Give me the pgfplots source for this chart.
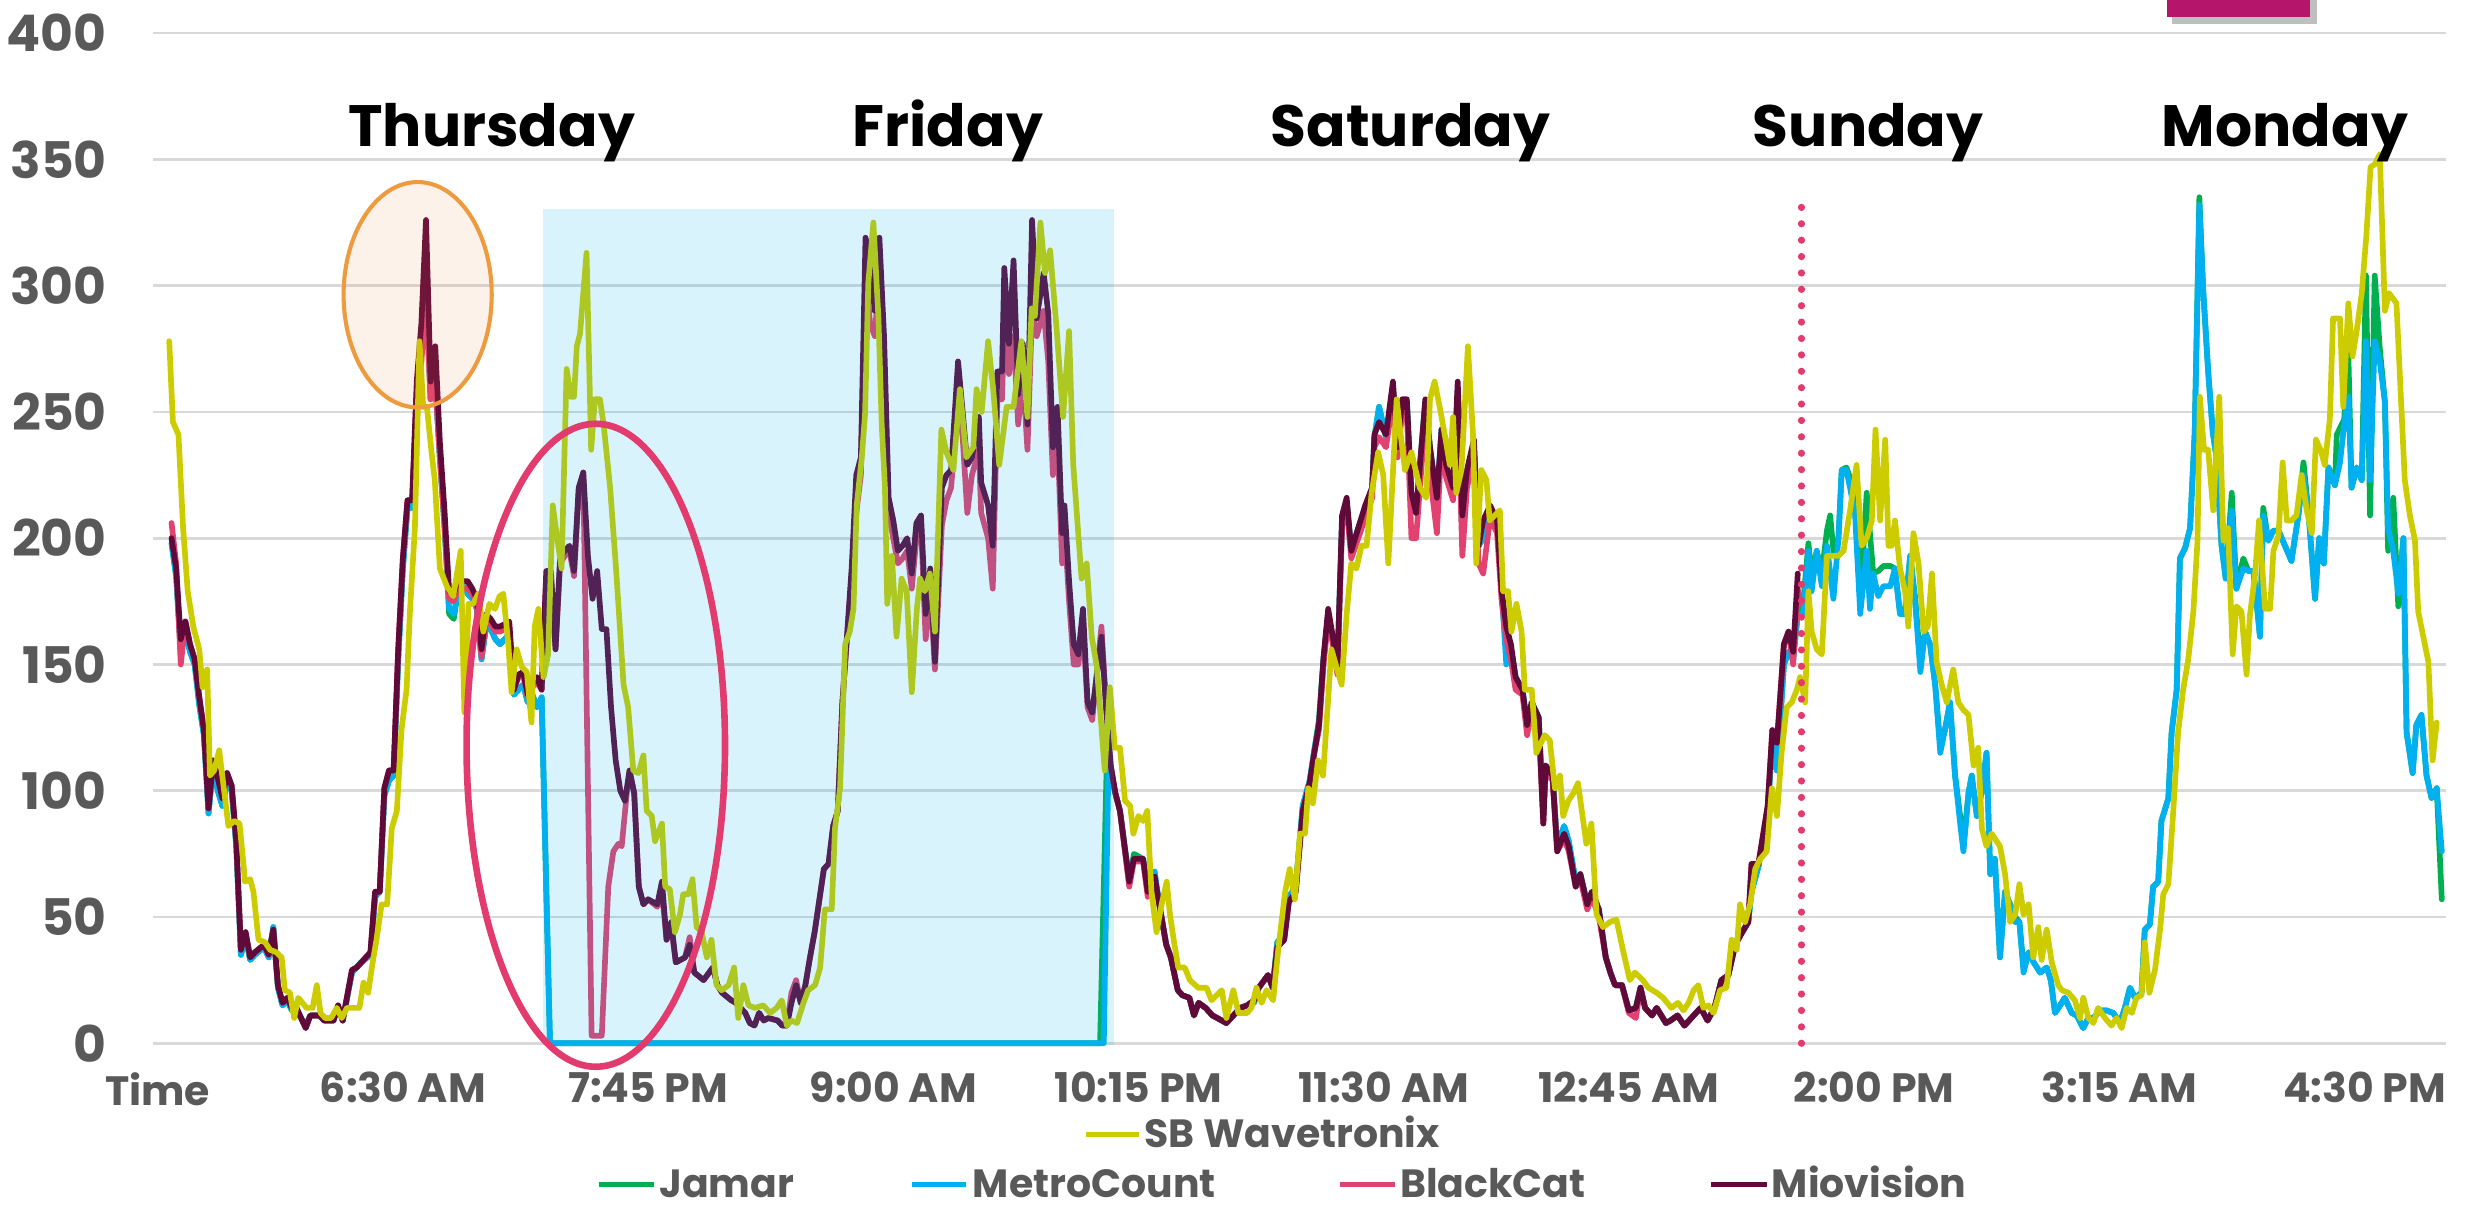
\documentclass[border=0pt]{standalone}
\usepackage{fontspec}
\setmainfont{Poppins}
\usepackage{pgfplots}
\usepackage{pgfplotstable}
\pgfplotsset{compat=1.18}
\definecolor{wavc}{HTML}{CCCC00}
\definecolor{jamc}{HTML}{00B050}
\definecolor{metc}{HTML}{00B0F0}
\definecolor{blkc}{HTML}{E2426F}
\definecolor{mioc}{HTML}{600A3A}
\definecolor{gridc}{HTML}{D9D9D9}
\definecolor{txtc}{HTML}{595959}
\definecolor{orc}{HTML}{EE9A3F}
\definecolor{orf}{HTML}{ED7D31}
\definecolor{pinkc}{HTML}{E23C6E}
\definecolor{magc}{HTML}{B5156B}

\pgfplotstableread{
x mio blk met jam
4 200 206 198 198
5 188 190 185 185
6 160 150 155 155
7 167 167 163 163
8 158 158 155 155
9 152 152 150 150
10 137 137 134 134
11 124 124 122 122
12 93 93 91 91
13 112 112 110 110
14 105 105 100 100
15 97 97 94 94
16 107 107 104 104
17 102 102 100 100
18 80 80 78 78
19 37 37 35 35
20 44 44 42 42
21 34 34 33 33
22 36 36 35 35
24 39 39 38 38
25 35 35 34 34
26 45 45 46 46
27 23 23 22 22
28 16 16 15 15
29 18 18 17 17
30 14 14 13 13
31 14 14 13 13
33 6 6 7 7
34 11 11 11 11
36 11 11 11 11
37 9 9 9 9
39 9 9 9 9
40 15 15 14 14
41 9 9 9 9
43 29 29 28 28
44 30 30 30 30
45 32 32 32 32
47 36 36 35 35
48 60 60 58 58
49 60 60 60 60
50 101 101 98 98
51 108 108 104 104
52 108 108 106 106
53 156 156 152 152
54 192 192 188 188
55 215 215 212 212
56 215 215 212 212
57 262 258 255 255
58 285 270 278 278
59 326 295 300 300
60 262 255 255 255
61 276 262 262 262
62 238 232 232 232
63 211 205 205 205
64 179 176 172 170
65 178 175 170 168
66 183 180 180 180
67 183 180 182 182
68 183 180 178 178
69 180 178 176 176
70 176 173 172 172
71 156 153 152 152
72 170 167 165 165
73 168 166 164 164
74 165 163 160 160
75 165 163 158 158
77 167 165 162 162
78 140 140 138 138
79 146 145 140 140
80 147 146 142 142
81 138 137 135 135
82 142 141 138 138
83 145 143 133 133
84 140 140 137 137
85 187 185 nan nan
85.8 nan nan 0 0
86 187 185 nan nan
87 156 156 nan nan
88 193 190 nan nan
89 195 193 nan nan
90 197 195 nan nan
91 187 185 nan nan
92 220 218 nan nan
93 226 226 nan nan
94 193 nan nan nan
94.8 nan 3 nan nan
95 176 nan nan nan
96 187 nan nan nan
97 164 3 nan nan
98 164 nan nan nan
98.4 nan 62 nan nan
99 133 nan nan nan
99.5 nan 76 nan nan
100 112 nan nan nan
100.6 nan 79 nan nan
101 100 nan nan nan
101.3 nan 78 nan nan
102 96 nan nan nan
102.4 nan 99 nan nan
103 108 108 nan nan
104 99 99 nan nan
105 62 62 nan nan
106 55 55 nan nan
107 57 57 nan nan
109 55 54 nan nan
110 64 60 nan nan
111 41 41 nan nan
112 48 46 nan nan
113 32 32 nan nan
115 34 34 nan nan
116 39 42 nan nan
117 28 28 nan nan
119 25 25 nan nan
121 30 30 nan nan
122 23 23 nan nan
123 20 20 nan nan
125 17 17 nan nan
126 16 16 nan nan
128 12 12 nan nan
129 8 8 nan nan
130 7 7 nan nan
131 12 12 nan nan
132 9 9 nan nan
133 10 10 nan nan
135 9 9 nan nan
136 7 7 nan nan
137 7 7 nan nan
138 16 20 nan nan
139 23 25 nan nan
140 16 16 nan nan
141 23 23 nan nan
142 34 34 nan nan
143 44 44 nan nan
145 69 69 nan nan
146 71 71 nan nan
147 86 86 nan nan
148 92 92 nan nan
149 135 135 nan nan
151 188 185 nan nan
152 225 210 nan nan
153 232 225 nan nan
154 319 305 nan nan
155 310 285 nan nan
156 290 280 nan nan
157 319 305 nan nan
158 280 265 nan nan
159 216 210 nan nan
160 207 200 nan nan
161 195 190 nan nan
162 197 192 nan nan
163 200 195 nan nan
164 186 180 nan nan
165 206 200 nan nan
166 209 205 nan nan
167 170 160 nan nan
168 188 180 nan nan
169 151 148 nan nan
170.5 220 205 nan nan
171.5 225 215 nan nan
172.5 227 220 nan nan
174 270 255 nan nan
175 250 240 nan nan
176 229 210 nan nan
177 232 225 nan nan
178.5 248 235 nan nan
179 222 210 nan nan
180.5 213 200 nan nan
181.5 197 180 nan nan
182.5 266 255 nan nan
183.5 266 255 nan nan
184 307 285 nan nan
185 277 265 nan nan
186 310 280 nan nan
187 257 245 nan nan
188 277 265 nan nan
189 245 235 nan nan
190 326 290 nan nan
191 287 280 nan nan
192.5 305 290 nan nan
193.5 289 270 nan nan
194.5 236 225 nan nan
195.5 252 240 nan nan
196.5 202 190 nan nan
197 213 205 nan nan
198 183 175 nan nan
199 158 150 nan nan
200 154 150 nan nan
201 172 165 nan nan
202 135 133 nan nan
203 131 128 nan nan
204.7 nan nan nan 0
205 161 165 nan nan
205.5 nan nan 0 nan
206 133 133 nan nan
206.1 nan nan nan 108
206.5 nan nan 110 nan
207 110 110 108 108
208 99 99 99 99
209 92 92 92 92
211 64 62 64 64
212 73 72 73 75
214 73 72 73 73
215 60 58 60 60
216.5 66 64 68 66
217.5 55 55 55 55
219 39 39 39 39
220 34 34 34 34
221.5 21 21 21 21
222.5 19 19 19 19
224 18 18 18 18
225 11 11 11 11
226 16 16 16 16
227.5 14 14 14 14
229 11 11 11 11
232 8 8 8 8
233.5 11 11 11 11
235 14 14 14 14
236.5 15 15 15 15
238 17 17 16 17
239 22 22 22 22
241 27 27 27 27
242 22 22 22 22
243 38 38 40 40
244.5 41 41 43 43
245.5 56 56 58 58
247 60 60 62 62
248.5 92 92 94 94
250 103 103 104 104
251 115 115 116 116
252 126 124 126 128
253 153 150 152 152
254 172 168 170 170
255 161 158 160 160
256 149 146 150 150
257 209 205 206 206
258 216 212 214 214
259 195 192 195 195
260.5 204 200 204 204
262 213 208 212 212
263.5 220 216 220 220
264 241 236 240 240
265 246 240 252 252
266.5 241 236 240 240
268 262 255 258 258
269 236 232 236 236
270 255 250 254 254
271 255 250 254 254
272 218 200 215 215
273 210 200 210 210
275 255 248 254 254
276 236 225 236 236
277.5 216 202 214 214
278.5 243 238 243 243
279.5 229 224 229 229
281 220 215 218 218
282 262 255 258 258
283 209 193 200 200
284 227 220 225 225
285.5 239 232 237 237
286.5 197 190 197 197
287.5 207 186 200 200
289 213 208 212 212
290.5 207 202 207 207
291.5 179 175 179 179
292.5 165 160 150 155
293.5 158 152 156 156
294.5 145 140 145 145
296 140 138 140 140
297 126 122 126 126
298 135 132 135 135
299.5 129 126 129 129
300.5 87 87 90 90
301 110 108 110 110
302.5 106 104 106 106
303.5 76 76 78 78
305 83 81 86 86
306 78 76 80 80
307.5 62 62 64 64
308.5 67 65 67 67
310 55 53 55 55
311 60 58 60 60
312.5 53 50 53 53
314 34 34 34 34
315 28 28 28 28
316 23 23 23 23
317.5 23 23 23 23
319 13 12 13 13
320.5 14 10 14 14
321.5 22 22 22 22
322.5 14 14 14 14
324 11 11 11 11
325 14 14 14 14
327 8 8 8 8
328 9 9 9 9
329.5 11 11 11 11
331 7 7 7 7
332 9 9 9 9
334.5 14 14 14 14
336 9 9 9 9
337.5 14 14 14 14
339 25 25 25 25
340.5 27 27 27 27
342 39 39 40 40
343.5 44 44 44 44
344.8 48 48 48 48
345.5 71 71 60 60
347 71 71 70 70
349 94 94 92 92
350 124 124 120 120
351 119 119 108 108
352.5 158 158 150 150
353.5 163 163 155 155
354.5 155 150 152 152
355.5 186 180 170 170
356 nan 174 nan nan
356.7 nan nan 170 175
357.8 nan nan 195 198
358.5 nan nan 179 185
359.6 nan nan 195 195
360.7 nan nan 181 186
361.8 nan nan 197 203
362.5 nan nan nan 209
363.2 nan nan 176 195
364.3 nan nan 200 200
365 nan nan 227 227
366 nan nan 227 228
366.8 nan nan 220 224
367.9 nan nan 209 213
369 nan nan 170 175
370.4 nan nan 195 218
371.1 nan nan 172 nan
371.8 nan nan 186 186
372.9 nan nan 177 187
374 nan nan 181 189
375.5 nan nan 181 189
376.5 nan nan 188 188
377.6 nan nan 170 170
378.7 nan nan 170 172
379.8 nan nan 193 193
380.9 nan nan 174 176
382 nan nan 147 150
383 nan nan 163 163
384.1 nan nan 158 158
385.2 nan nan 142 142
386.3 nan nan 115 118
387.3 nan nan 124 124
388.4 nan nan 135 135
389.5 nan nan 106 106
390.6 nan nan 87 90
391.3 nan nan 76 78
392.4 nan nan 99 99
393.1 nan nan 106 106
394.2 nan nan 90 90
395.3 nan nan 100 100
396.3 nan nan 115 115
397.1 nan nan 67 67
398.1 nan nan 73 73
399.2 nan nan 34 34
400.3 nan nan 60 60
401.4 nan nan 55 55
402.5 nan nan 48 50
403.4 nan nan 48 48
404.3 nan nan 28 30
405.4 nan nan 36 36
406.5 nan nan 32 32
407.9 nan nan 28 28
409.3 nan nan 30 30
410.2 nan nan 25 25
411.1 nan nan 12 12
412.2 nan nan 15 15
413.2 nan nan 18 18
414.7 nan nan 12 12
415.8 nan nan 11 11
417.2 nan nan 6 6
418.3 nan nan 10 10
419.4 nan nan 10 10
420.8 nan nan 13 13
422.2 nan nan 13 13
423.7 nan nan 12 12
425.1 nan nan 8 8
426.2 nan nan 14 14
427.3 nan nan 22 22
428.4 nan nan 18 18
429.8 nan nan 20 20
430.5 nan nan 45 45
431.6 nan nan 47 47
432.3 nan nan 62 62
433.4 nan nan 64 64
434.1 nan nan 88 88
435.6 nan nan 97 97
436.3 nan nan 123 123
437.4 nan nan 140 140
438.1 nan nan 192 192
439.2 nan nan 196 196
440.3 nan nan 204 204
441.3 nan nan 242 242
442.3 nan nan 332 335
443.1 nan nan 299 299
444.2 nan nan 266 266
445.2 nan nan 242 242
446 nan nan 232 232
447.1 nan nan 197 197
448 nan nan 184 184
449.3 nan nan 211 218
450.3 nan nan 180 180
451.8 nan nan 188 192
452.9 nan nan 187 187
454 nan nan 187 187
455.4 nan nan 161 161
456.1 nan nan 209 212
457.2 nan nan 199 199
458.3 nan nan 203 203
459.4 nan nan 203 203
460.8 nan nan 197 197
462.2 nan nan 191 191
463.7 nan nan 209 209
464.8 nan nan 225 230
465.9 nan nan 210 210
467.3 nan nan 176 176
468.2 nan nan 200 200
469.2 nan nan 190 190
470.2 nan nan 228 228
471.6 nan nan 221 221
472 nan nan nan 241
472.7 nan nan 230 nan
473.6 nan nan 245 247
474.5 nan nan 256 273
475.2 nan nan 220 220
476.3 nan nan 228 228
477.4 nan nan 223 223
478.3 nan nan 278 304
479.2 nan nan 223 209
480.2 nan nan 278 304
481.3 nan nan 270 275
482.4 nan nan 254 254
483.1 nan nan 204 195
484.2 nan nan 195 216
485.3 nan nan 178 173
486.4 nan nan 200 200
487.1 nan nan 123 123
488.4 nan nan 107 107
489.2 nan nan 126 126
490.3 nan nan 130 130
491.4 nan nan 106 106
492.5 nan nan 97 97
493.6 nan nan 101 101
494.7 nan nan 76 57
}\cnt

\pgfplotstableread{
x y
3.5 278
4.3 246
5.5 241
6.5 204
7.5 179
8.7 165
10 156
10.7 141
11.7 148
12.3 106
13.2 108
14.3 116
15.3 101
16.3 86
17.5 88
18.7 87
19.9 64
21 65
21.7 60
22.8 41
24.2 40
25.3 37
26.7 36
27.8 34
28.5 21
29.6 20
30.5 10
31.4 18
33.2 14
34.5 14
35.4 23
36.2 12
37.2 10
38.5 10
39.7 14
40.8 10
41.9 14
43.3 14
44.6 14
45.5 24
46.5 20
47.3 30
48.3 41
49.4 55
50.6 55
51.6 85
52.7 92
53.7 124
54.8 140
55.5 170
56.6 204
57.6 278
58.4 252
59.2 252
60.2 234
60.9 223
62 188
63.5 181
64.9 177
66.5 195
67.3 131
68.2 174
69.2 174
70.3 178
71.4 163
72.7 174
73.9 172
74.9 177
75.7 178
76.8 158
77.5 139
78.6 156
79.7 149
80.8 147
81.8 127
82.5 165
83.3 172
84.4 145
85.4 154
86.4 213
87.2 202
88.3 188
89.4 267
90.3 256
91 256
91.6 276
92.3 281
93.7 313
94.7 235
95.5 255
96.6 255
97.4 245
98.8 220
100 190
100.9 165
101.7 142
102.7 133
103.8 108
104.9 107
106 114
106.7 92
107.8 90
108.5 80
110 87
110.7 62
111.7 61
112.8 44
113.9 51
114.6 59
115.7 59
116.6 65
117.5 46
118.6 44
119.7 34
120.7 41
121.8 23
122.9 21
124.4 23
125.6 30
126.5 10
127.6 23
128.7 15
130.1 14
131.9 15
133.4 12
134.8 14
135.9 17
137 7
138 9
139.2 8
140.6 16
141.6 21
143.1 23
144.2 30
145.2 53
146.7 53
147.4 85
148.5 101
149.6 158
150.6 163
151.4 172
152.1 213
153.2 232
153.9 249
154.6 301
155.7 325
156.8 287
157.5 245
158.2 220
158.7 174
159.7 193
160.7 161
161.8 184
162.9 179
164 139
165.1 172
165.8 184
166.8 179
167.9 186
169 163
170.4 243
171.5 234
173 227
174.4 259
175.8 232
177.3 236
178 259
179.1 250
180.5 278
181.6 259
182.9 229
184.5 252
186 252
187.7 278
189 248
189.9 291
190.6 288
191.8 325
192.8 305
193.9 314
195.3 283
196.7 248
198 282
198.9 229
200.7 184
201.8 190
202.9 161
204 149
205.7 108
206.8 141
207.9 117
209 117
210.1 96
211.2 94
211.9 83
213 90
214 88
214.9 92
215.8 60
216.9 44
218 55
219.1 64
219.8 51
220.7 40
221.6 30
223 30
224.1 25
225.9 22
227.7 22
228.8 17
231 21
232 10
233.5 21
234.6 12
236.5 12
237.4 14
238.5 22
239.6 16
240.7 21
242.1 17
243.2 37
244.7 60
245.7 69
246.8 57
247.9 83
249 83
249.7 101
250.7 95
251.8 112
252.9 106
254.7 156
255.8 149
256.9 142
258 170
259 190
260.1 188
261.2 197
262.3 197
263.4 218
264.8 234
265.9 225
267 190
268.8 255
269.8 239
270.6 227
272 234
273.8 220
275.2 216
276 255
277 262
278.1 252
279.2 241
280.3 229
281 248
281.7 218
282.8 227
284.2 276
285.3 241
286 190
287.1 227
288.2 223
288.9 207
291.1 211
291.8 179
292.9 179
293.6 163
294.7 174
295.8 163
296.5 140
298 140
299 115
300.8 122
301.9 120
303 101
304.1 106
304.8 90
305.9 96
307 99
308 103
309.8 79
310.9 87
312 51
313.4 46
314.9 48
316.3 49
317.7 37
319.2 25
320.3 28
322 25
323.2 22
325 20
326.4 18
328.2 14
329.6 16
330.8 13
331.9 16
333 21
334 23
335.1 14
336.2 15
337.3 12
338.7 21
340.1 22
341.2 41
342.3 37
343 55
344.1 48
345.2 55
346.3 69
347.4 73
348.8 76
349.9 101
351 90
352 115
353.1 133
354.2 135
355.3 140
356 145
357.1 135
357.8 179
358.5 163
359.6 156
360.7 154
361.8 193
363.2 193
364.3 193
365.4 195
366.8 211
368.2 229
369.3 197
370.4 200
371.5 207
372.3 243
373.3 207
374.4 239
375.1 197
375.8 197
376.5 207
377.6 188
378.7 179
379.4 165
380.5 202
381.6 190
382.7 163
383.6 165
384.5 186
385.5 151
386.6 142
387.7 135
389.1 148
390.2 135
391.3 132
392.4 130
393.5 110
394.5 117
395.3 85
396.3 78
397.4 83
399.2 78
400.3 67
401.4 48
402.5 51
403.4 63
404.3 51
405.4 55
406.4 34
407.5 46
408.2 33
409.3 45
410.4 32
411.8 23
412.6 21
414 20
415.4 17
416.5 10
417.2 18
418.3 10
419.4 8
420.4 14
421.9 10
423.3 7
424.4 10
425.5 6
426.6 14
427.7 12
428.7 18
429.8 19
430.5 40
431.5 20
432.7 29
433.8 45
434.5 59
435.6 63
436.7 93
437.7 123
438.8 140
439.9 152
441 171
441.9 199
442.4 256
443.3 235
444.2 235
445.3 211
446.6 256
447.5 199
448.5 204
449.5 154
450.3 173
451.4 171
452.5 146
453.2 169
454.3 185
455.2 207
456.5 172
457.6 172
458.3 195
459.4 201
460.3 230
461.2 207
462.2 207
463.3 209
464.4 225
465.5 211
466.6 202
467.5 239
468.5 235
469.4 229
470.5 247
471.2 287
472.7 287
473.4 252
474.5 293
475.4 272
476.3 282
477.4 297
478.4 320
479.3 347
480.2 348
481.3 352
482.4 290
483.3 297
484.9 293
486.7 223
487.8 209
488.9 199
489.6 171
490.7 161
491.8 151
492.7 112
493.6 127
}\wav

\begin{document}
\begin{tikzpicture}
\path[use as bounding box] (0,0) rectangle (784pt,384pt);
\fill[black, opacity=0.25] (689pt,376.5pt) rectangle (735pt,390pt);
\fill[magc] (687.5pt,378.5pt) rectangle (733pt,390pt);
\begin{axis}[
  at={(48.55pt,53pt)}, anchor=south west,
  scale only axis, width=727.35pt, height=320.5pt,
  xmin=0, xmax=495.5, ymin=0, ymax=400,
  clip=false,
  axis line style={draw=none},
  major tick length=0pt,
  ytick={0,50,...,400},
  ymajorgrids,
  grid style={color=gridc, line width=0.85pt},
  xtick={1,54,107,160,213,266,319,372,425,478},
  xticklabels={Time,6:30 AM,7:45 PM,9:00 AM,10:15 PM,11:30 AM,12:45 AM,2:00 PM,3:15 AM,4:30 PM},
  xticklabel style={font=\fontsize{13}{15}\selectfont\bfseries, text=txtc, anchor=north, inner sep=0pt, yshift=-9pt},
  yticklabel style={font=\fontsize{16}{18}\selectfont\bfseries, text=txtc, anchor=east, inner sep=0pt, xshift=-14.5pt},
  /pgf/number format/assume math mode=true,
  every axis plot/.append style={line width=1.8pt, line join=round, line cap=round, mark=none},
]
\addplot[jamc] table[x=x,y=jam]{\cnt};
\addplot[metc] table[x=x,y=met]{\cnt};
\addplot[blkc] table[x=x,y=blk]{\cnt};
\addplot[mioc] table[x=x,y=mio]{\cnt};
\addplot[wavc] table[x=x,y=y]{\wav};
\fill[metc, fill opacity=0.15] (axis cs:84.2,-0.8) rectangle (axis cs:207.7,330.3);
\fill[orf, fill opacity=0.1] (axis cs:57.2,296.4) ellipse [x radius=23.5pt, y radius=35.75pt];
\draw[orc, line width=1.3pt] (axis cs:57.2,296.4) ellipse [x radius=23.5pt, y radius=35.75pt];
\draw[pinkc, line width=2.1pt] (axis cs:95.7,118) ellipse [x radius=41pt, y radius=102pt];
\draw[pinkc, line width=2.3pt, line cap=round, dash pattern=on 0pt off 5.2pt] (axis cs:356.3,0) -- (axis cs:356.3,331);
\node[anchor=base, inner sep=0pt, font=\fontsize{18.5}{22}\selectfont\bfseries] at (axis cs:73.2,355) {Thursday};
\node[anchor=base, inner sep=0pt, font=\fontsize{18.5}{22}\selectfont\bfseries] at (axis cs:171.8,355) {Friday};
\node[anchor=base, inner sep=0pt, font=\fontsize{18.5}{22}\selectfont\bfseries] at (axis cs:271.8,355) {Saturday};
\node[anchor=base, inner sep=0pt, font=\fontsize{18.5}{22}\selectfont\bfseries] at (axis cs:370.7,355) {Sunday};
\node[anchor=base, inner sep=0pt, font=\fontsize{18.5}{22}\selectfont\bfseries] at (axis cs:460.8,355) {Monday};
\end{axis}
\begin{scope}[every node/.style={anchor=base west, inner sep=0pt, text=txtc, font=\fontsize{12.5}{14}\selectfont\bfseries}]
\draw[wavc, line width=1.6pt] (344.5pt,24pt) -- (361.5pt,24pt);
\node at (363pt,19.8pt) {SB Wavetronix};
\draw[jamc, line width=1.6pt] (190pt,8.3pt) -- (207.5pt,8.3pt);
\node at (209pt,4.2pt) {Jamar};
\draw[metc, line width=1.6pt] (289.5pt,8.3pt) -- (306.5pt,8.3pt);
\node at (308.5pt,4.2pt) {MetroCount};
\draw[blkc, line width=1.6pt] (425pt,8.3pt) -- (442.5pt,8.3pt);
\node at (444pt,4.2pt) {BlackCat};
\draw[mioc, line width=1.6pt] (543pt,8.3pt) -- (560.5pt,8.3pt);
\node at (562pt,4.2pt) {Miovision};
\end{scope}
\end{tikzpicture}
\end{document}
